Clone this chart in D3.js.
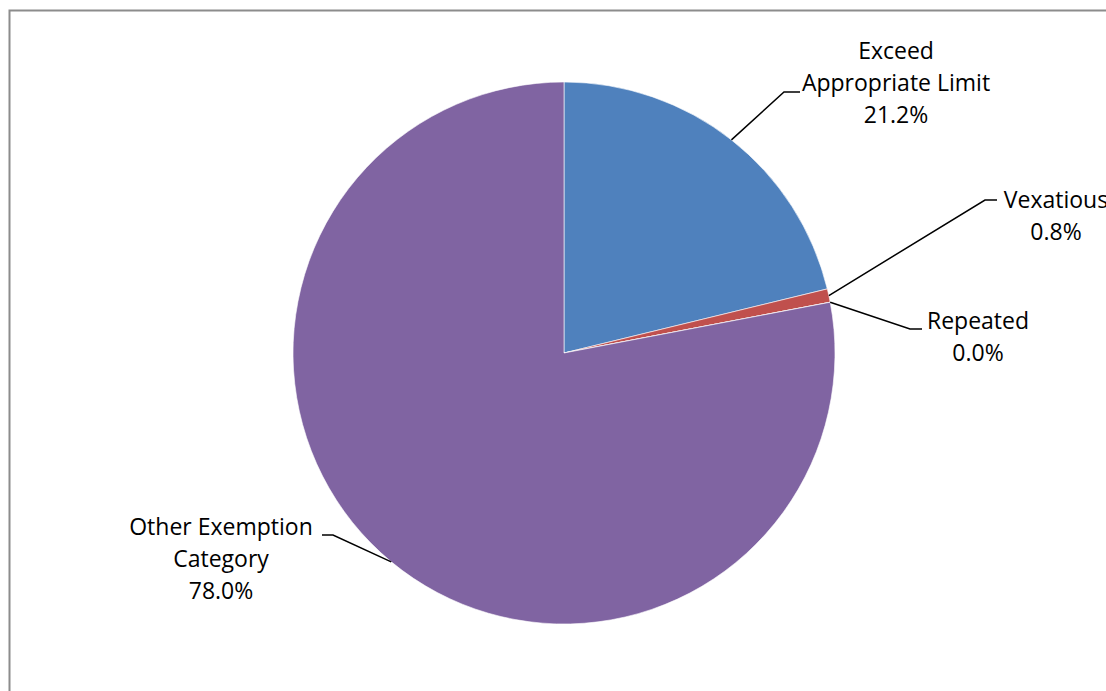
<!DOCTYPE html>
<html>
<head>
<meta charset="utf-8">
<script src="https://cdn.jsdelivr.net/npm/d3@7"></script>
<style>
  html, body { margin: 0; padding: 0; background: #fff; }
  svg { display: block; }
  text { font-family: "Open Sans", sans-serif; font-size: 23px; fill: #000; }
</style>
</head>
<body>
<svg id="chart" width="1106" height="691"></svg>
<script>
// Share of exemptions by category (percent)
const categories = ["Exceed Appropriate Limit", "Vexatious", "Repeated", "Other Exemption Category"];
const shares = [21.2, 0.8, 0.0, 78.0];
const labelLines = [
  ["Exceed", "Appropriate Limit", "21.2%"],
  ["Vexatious", "0.8%"],
  ["Repeated", "0.0%"],
  ["Other Exemption", "Category", "78.0%"]
];
const colors = ["#4F81BD", "#C0504D", "#9BBB59", "#8064A2"];

const svg = d3.select("#chart");
const W = 1106, H = 691;

// chart frame
svg.append("rect")
  .attr("x", 9.5).attr("y", 10.5)
  .attr("width", W + 20).attr("height", H + 20)
  .attr("fill", "#fff")
  .attr("stroke", "#8c8c8c").attr("stroke-width", 2);

const cx = 564, cy = 353, R = 271;
const g = svg.append("g").attr("transform", `translate(${cx},${cy})`);

const pie = d3.pie().sort(null).value(d => d)(shares);
const arc = d3.arc().innerRadius(0).outerRadius(R);

g.selectAll("path.slice")
  .data(pie)
  .join("path")
  .attr("class", "slice")
  .attr("d", arc)
  .attr("fill", (d, i) => colors[i])
  .attr("stroke", "#fff")
  .attr("stroke-width", 0.6);

// label layout: elbow point, end of short horizontal tick, text anchor centre and first baseline
const labelPos = [
  { elbow: [784, 92],  end: [800, 92],  tx: 896,  ty: 59 },
  { elbow: [985, 200], end: [997, 200], tx: 1056, ty: 208 },
  { elbow: [910, 329], end: [922, 329], tx: 978,  ty: 329 },
  { elbow: [333, 535], end: [322, 535], tx: 221,  ty: 535 }
];
const lineGap = 32;

pie.forEach((d, i) => {
  const mid = (d.startAngle + d.endAngle) / 2;
  const p0 = [cx + R * Math.sin(mid), cy - R * Math.cos(mid)];
  const L = labelPos[i];
  svg.append("polyline")
    .attr("points", [p0, L.elbow, L.end].map(p => p.join(",")).join(" "))
    .attr("fill", "none")
    .attr("stroke", "#000")
    .attr("stroke-width", 1.5);
  const t = svg.append("text").attr("text-anchor", "middle");
  labelLines[i].forEach((s, k) => {
    t.append("tspan").attr("x", L.tx).attr("y", L.ty + k * lineGap).text(s);
  });
});
</script>
</body>
</html>
